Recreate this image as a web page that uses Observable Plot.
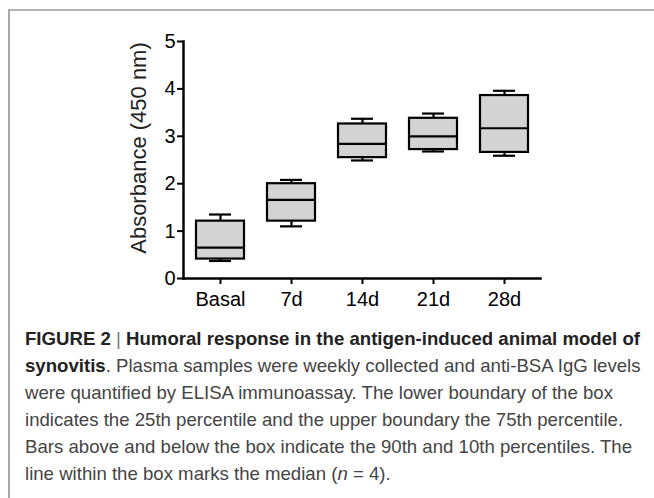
<!DOCTYPE html>
<html>
<head>
<meta charset="utf-8">
<script src="https://cdn.jsdelivr.net/npm/d3@7"></script>
<script src="https://cdn.jsdelivr.net/npm/@observablehq/plot@0.6"></script>
<style>
  html, body { margin: 0; padding: 0; background: #fff; width: 654px; height: 498px; overflow: hidden; }
  #frame { position: absolute; left: 8px; top: 9px; width: 700px; height: 600px;
           border-top: 2px solid #b4b4b4; border-left: 2px solid #a8a8a8; }
  #chart { position: absolute; left: 0; top: 0; }
  #caption { position: absolute; left: 25px; top: 325px; font-family: "Liberation Sans", Arial, sans-serif;
             font-size: 19px; line-height: 27px; color: #444; white-space: nowrap; transform-origin: 0 0; }
  #caption b { color: #222; }
  #caption .sep { color: #777; font-weight: normal; }
</style>
</head>
<body>
<div id="frame"></div>
<div id="chart"></div>
<div id="caption"><span id="line1"><b>FIGURE 2</b> <span class="sep">|</span> <b>Humoral response in the antigen-induced animal model of</b></span><br><b>synovitis</b>. Plasma samples were weekly collected and anti-BSA IgG levels<br>were quantified by ELISA immunoassay. The lower boundary of the box<br>indicates the 25th percentile and the upper boundary the 75th percentile.<br>Bars above and below the box indicate the 90th and 10th percentiles. The<br>line within the box marks the median (<i>n</i> = 4).</div>
<script>
const categories = ["Basal", "7d", "14d", "21d", "28d"];
const p10    = [0.37, 1.10, 2.49, 2.68, 2.59];
const q1     = [0.41, 1.21, 2.55, 2.72, 2.66];
const median = [0.65, 1.66, 2.84, 3.00, 3.17];
const q3     = [1.21, 2.00, 3.26, 3.38, 3.86];
const p90    = [1.35, 2.08, 3.37, 3.48, 3.96];
const yTicks = [0, 1, 2, 3, 4, 5];
const yTitle = "Absorbance (450 nm)";

const data = categories.map((c, i) => ({cat: c, p10: p10[i], q1: q1[i], median: median[i], q3: q3[i], p90: p90[i]}));

const chart = Plot.plot({
  width: 654,
  height: 320,
  marginLeft: 183,
  marginRight: 114,
  marginTop: 41,
  marginBottom: 42,
  style: {fontFamily: "'Liberation Sans', Arial, sans-serif", background: "transparent", color: "black", overflow: "visible"},
  x: {domain: categories, paddingInner: 0.33, paddingOuter: 0.165, align: 0.5, label: null},
  y: {domain: [0, 5], label: null},
  marks: [
    Plot.ruleX(data, {x: "cat", y1: "q3", y2: "p90", stroke: "black", strokeWidth: 2.2}),
    Plot.ruleX(data, {x: "cat", y1: "p10", y2: "q1", stroke: "black", strokeWidth: 2.2}),
    Plot.barY(data, {x: "cat", y1: "q1", y2: "q3", fill: "#d3d3d3", stroke: "black", strokeWidth: 2.2}),
    Plot.tickY(data, {x: "cat", y: "median", stroke: "black", strokeWidth: 2.2}),
    Plot.tickY(data, {x: "cat", y: "p90", stroke: "black", strokeWidth: 2.2, insetLeft: 13, insetRight: 13}),
    Plot.tickY(data, {x: "cat", y: "p10", stroke: "black", strokeWidth: 2.2, insetLeft: 13, insetRight: 13}),
    Plot.axisY({ticks: yTicks, tickFormat: d => String(d), tickSize: 6, tickPadding: 2, fontSize: 20, strokeWidth: 2, label: null}),
    Plot.axisX({tickSize: 6, tickPadding: 7, fontSize: 20, strokeWidth: 2, label: null}),
    Plot.frame({anchor: "left", stroke: "black", strokeWidth: 2.5}),
    Plot.frame({anchor: "bottom", stroke: "black", strokeWidth: 2.5}),
    Plot.text([yTitle], {text: d => d, frameAnchor: "left", rotate: -90, dx: -45, dy: -12, fontSize: 22, textAnchor: "middle", fill: "#222"})
  ]
});
document.getElementById("chart").appendChild(chart);

const cap = document.getElementById("caption");
const w1 = document.getElementById("line1").getBoundingClientRect().width;
cap.style.transform = `scaleX(${615 / w1})`;
</script>
</body>
</html>
